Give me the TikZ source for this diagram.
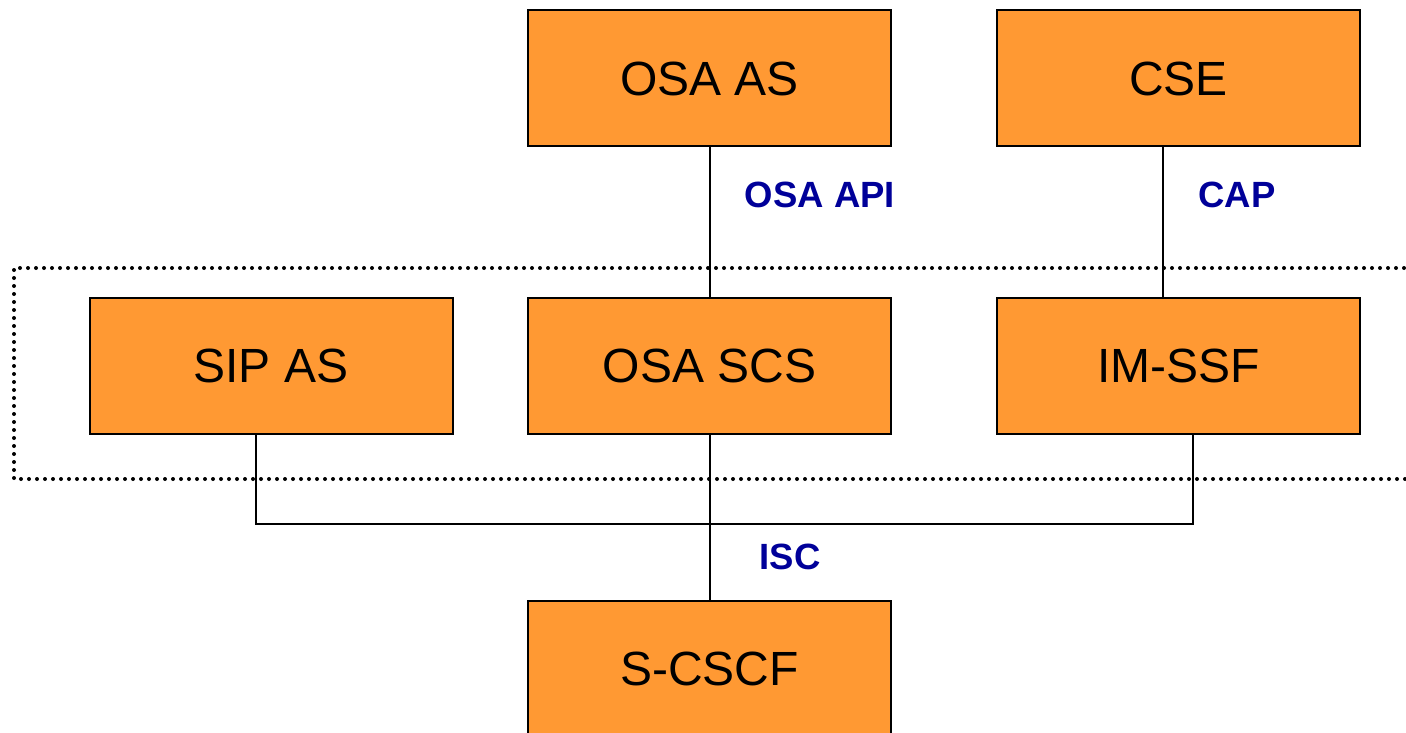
\documentclass[tikz,border=0pt]{standalone}
\usepackage{fontspec}
\setmainfont{Liberation Sans}
\definecolor{boxfill}{HTML}{FF9933}
\definecolor{ifblue}{HTML}{000099}
\begin{document}
\begin{tikzpicture}[x=1pt,y=-1pt,
  unit/.style={draw=black,line width=2pt,fill=boxfill,minimum width=363pt,minimum height=136pt,
    inner sep=0pt,font=\fontsize{48}{56}\selectfont},
  iface/.style={text=ifblue,font=\fontsize{36.5}{42}\selectfont\bfseries,inner sep=0pt},
  link/.style={line width=2pt}]
\useasboundingbox (0,0) rectangle (1406,733);
\clip (0,0) rectangle (1406,733);
% service domain boundary
\draw[line width=4pt,dash pattern=on 0pt off 8pt,line cap=round]
  (1420,268) -- (14,268) -- (14,479) -- (1420,479);
% top row
\node[unit] (osaas) at (709.5,78.5) {OSA AS};
\node[unit] (cse) at (1178.5,78.5) {CSE};
% middle row
\node[unit] (sipas) at (271,366) {SIP AS};
\node[unit] (osascs) at (709.5,366) {OSA SCS};
\node[unit] (imssf) at (1178.5,366) {IM-SSF};
% bottom
\node[unit] (scscf) at (709.5,669) {S-CSCF};
% connectors
\draw[link] (osaas.south) -- (osascs.north);
\draw[link] ([xshift=-15.5pt]cse.south) -- ([xshift=-15.5pt]imssf.north);
\coordinate (bus) at (709.5,524);
\draw[link] ([xshift=-15pt]sipas.south) |- (bus) -| ([xshift=14.5pt]imssf.south);
\draw[link] (osascs.south) -- (scscf.north);
% interface labels
\node[iface] (lapi) at (820,195) {OSA API};
\node[iface] (lcap) at (1237,195) {CAP};
\node[iface] (lisc) at (790,557) {ISC};
\end{tikzpicture}
\end{document}
